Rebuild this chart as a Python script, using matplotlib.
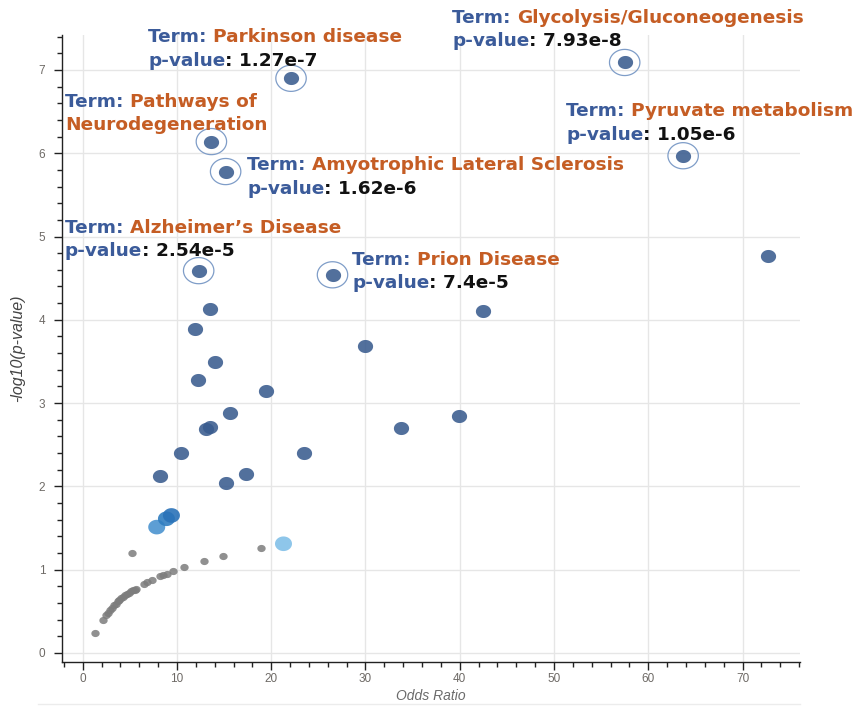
import numpy as np
import matplotlib
matplotlib.use("Agg")
import matplotlib.pyplot as plt
from matplotlib.path import Path
from matplotlib.lines import Line2D
from matplotlib.ticker import MultipleLocator

plt.rcParams['font.family'] = ['Liberation Sans', 'DejaVu Sans']

# ---------------- data ----------------
# highlighted (annotated) terms
term_names = ["Parkinson disease", "Glycolysis/Gluconeogenesis", "Pathways of\nNeurodegeneration",
              "Amyotrophic Lateral Sclerosis", "Pyruvate metabolism", "Alzheimer\u2019s Disease",
              "Prion Disease"]
term_pvals = ["1.27e-7", "7.93e-8", None, "1.62e-6", "1.05e-6", "2.54e-5", "7.4e-5"]
term_or = [22.1, 57.5, 13.65, 15.16, 63.7, 12.3, 26.5]
term_logp = [6.90, 7.09, 6.14, 5.78, 5.97, 4.59, 4.54]

# other significant terms (dark)
dark_or = [72.75, 13.47, 11.95, 14.0, 12.2, 19.4, 15.6, 13.47, 13.1, 10.47, 8.24,
           15.16, 17.36, 23.5, 29.98, 42.42, 33.8, 39.87]
dark_logp = [4.77, 4.13, 3.89, 3.49, 3.28, 3.15, 2.88, 2.71, 2.69, 2.40, 2.12,
             2.04, 2.15, 2.40, 3.69, 4.11, 2.70, 2.84]

# weaker significant terms (blue shades)
blue_or = [7.85, 8.88, 9.41, 21.3]
blue_logp = [1.51, 1.61, 1.65, 1.31]
blue_colors = ["#4b94d0", "#2f7dc0", "#2a72b8", "#82c0e8"]

# non-significant terms (gray)
gray_or = [1.27, 2.17, 2.5, 2.7, 2.9, 3.1, 3.3, 3.5, 3.7, 3.9, 4.1, 4.3, 4.5, 4.7, 4.9,
           5.1, 5.3, 5.5, 5.7, 6.5, 6.8, 7.3, 8.2, 8.5, 8.9, 9.6, 10.7, 12.83, 14.92,
           18.88, 5.27]
gray_logp = [0.24, 0.40, 0.45, 0.48, 0.51, 0.54, 0.57, 0.59, 0.62, 0.64, 0.66, 0.67,
             0.69, 0.71, 0.72, 0.74, 0.75, 0.76, 0.77, 0.83, 0.85, 0.87, 0.92, 0.93,
             0.95, 0.98, 1.03, 1.10, 1.16, 1.26, 1.20]

x_ticks = [0, 10, 20, 30, 40, 50, 60, 70]
y_ticks = [0, 1, 2, 3, 4, 5, 6, 7]

# ---------------- layout / style ----------------
W, H = 857, 706
fig = plt.figure(figsize=(W / 100, H / 100), dpi=100)
L, R, T, B = 62, 800, 35, 662
ax = fig.add_axes([L / W, 1 - B / H, (R - L) / W, (B - T) / H])
ax.set_xlim(-2.2, 76.1)
ax.set_ylim(-0.11, 7.42)

# ellipse marker (image is slightly stretched horizontally)
th = np.linspace(0, 2 * np.pi, 60)
ell = Path(np.column_stack([np.cos(th), 0.86 * np.sin(th)]), closed=True)

ax.scatter(gray_or, gray_logp, s=36, marker=ell, color="#7d7d7d", alpha=0.85,
           linewidths=0, zorder=3)
ax.scatter(blue_or, blue_logp, s=150, marker=ell, c=blue_colors, alpha=0.9,
           linewidths=0, zorder=3)
ax.scatter(dark_or, dark_logp, s=120, marker=ell, color="#3a5c8f", alpha=0.88,
           linewidths=0, zorder=3)
ax.scatter(term_or, term_logp, s=120, marker=ell, color="#3a5c8f", alpha=0.88,
           linewidths=0, zorder=3)
ax.scatter(term_or, term_logp, s=480, marker=ell, facecolors="none",
           edgecolors="#7f9dc8", linewidths=0.9, zorder=3)

# axes styling
for sp in ["top", "right"]:
    ax.spines[sp].set_visible(False)
for sp in ["left", "bottom"]:
    ax.spines[sp].set_linewidth(1.0)
    ax.spines[sp].set_color("#222222")
ax.set_xticks(x_ticks)
ax.set_yticks(y_ticks)
ax.xaxis.set_minor_locator(MultipleLocator(2))
ax.yaxis.set_minor_locator(MultipleLocator(0.2))
ax.tick_params(which="major", length=6, width=1, color="#222222",
               labelsize=8.5, labelcolor="#6e6a66")
ax.tick_params(axis="x", which="major", pad=2)
ax.tick_params(axis="y", which="major", pad=6)
ax.tick_params(which="minor", length=3.5, width=1, color="#222222")
ax.grid(True, which="major", color="#e6e6e6", linewidth=1)
ax.set_axisbelow(True)
ax.set_xlabel("Odds Ratio", fontsize=10, style="italic", color="#6b6b6b", labelpad=3)
ax.set_ylabel("-log10(p-value)", fontsize=11.5, style="italic", color="#444444", labelpad=10)

# annotation text positions (figure pixels: left x, top y of first line)
label_pos = [(148, 28), (452, 9), (65, 93), (247, 156), (566, 102), (65, 219), (352, 251)]
BLUE, ORANGE, BLACK = "#3b5b9a", "#c55d24", "#111111"
FS = 13.3
LINE = 23.5
ANN_FONT = ["DejaVu Sans"]


def chain(x_px, y_px, parts):
    first = fig.text(x_px / W, 1 - y_px / H, parts[0][0], color=parts[0][1], fontsize=FS,
                     fontweight="bold", va="top", ha="left", family=ANN_FONT)
    prev = first
    for s, c in parts[1:]:
        prev = ax.annotate(s, xy=(1, 0), xycoords=prev, color=c, fontsize=FS,
                           fontweight="bold", va="bottom", ha="left",
                           annotation_clip=False, family=ANN_FONT)
    return first


for name, pv, (lx, ly) in zip(term_names, term_pvals, label_pos):
    lines = name.split("\n")
    chain(lx, ly, [("Term: ", BLUE), (lines[0], ORANGE)])
    row = 1
    for extra in lines[1:]:
        fig.text(lx / W, 1 - (ly + LINE * row) / H, extra, color=ORANGE, fontsize=FS,
                 fontweight="bold", va="top", ha="left", family=ANN_FONT)
        row += 1
    if pv is not None:
        chain(lx, ly + LINE * row, [("p-value", BLUE), (": " + pv, BLACK)])

fig.add_artist(Line2D([38 / W, R / W], [1 - 704 / H, 1 - 704 / H], color="#ececec", lw=1))

fig.savefig("out.png", dpi=100, facecolor="white")
